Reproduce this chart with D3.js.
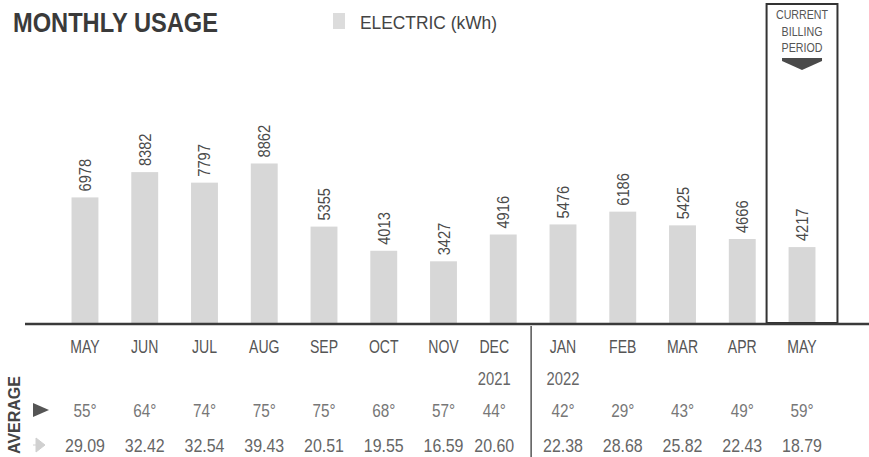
<!DOCTYPE html>
<html>
<head>
<meta charset="utf-8">
<script src="https://cdn.jsdelivr.net/npm/d3@7/dist/d3.min.js"></script>
<style>
html,body{margin:0;padding:0;background:#fff;}
svg{display:block;}
.nar{font-family:'Liberation Sans Narrow','Liberation Sans',Arial,sans-serif;}
</style>
</head>
<body>
<div id="chart"></div>
<script>
const months = ["MAY","JUN","JUL","AUG","SEP","OCT","NOV","DEC","JAN","FEB","MAR","APR","MAY"];
const years = ["","","","","","","","2021","2022","","","",""];
const kwh = [6978,8382,7797,8862,5355,4013,3427,4916,5476,6186,5425,4666,4217];
const temps = [55,64,74,75,75,68,57,44,42,29,43,49,59];
const dailyAvg = ["29.09","32.42","32.54","39.43","20.51","19.55","16.59","20.60","22.38","28.68","25.82","22.43","18.79"];
const titleText = "MONTHLY USAGE";
const legendText = "ELECTRIC (kWh)";
const currentLabel = ["CURRENT","BILLING","PERIOD"];

const W = 869, H = 457;
const svg = d3.select("#chart").append("svg").attr("width", W).attr("height", H);
const idx = d3.range(months.length);

const x = d3.scaleBand().domain(idx).range([55.1, 831.9]).paddingInner(0.55).paddingOuter(0.275);
const y = d3.scaleLinear().domain([0, 10000]).range([323, 143]);
const cx = i => x(i) + x.bandwidth() / 2;
const tx = i => cx(i) + (i === 7 ? -9 : 0);

function condense(sel, f) {
  sel.each(function () {
    const L = this.getComputedTextLength();
    d3.select(this).attr("textLength", L * f).attr("lengthAdjust", "spacingAndGlyphs");
  });
  return sel;
}

// Title
svg.append("text").attr("class","nar").attr("x",13).attr("y",32)
  .attr("font-size",28).attr("font-weight","bold").attr("fill","#3a3a3a")
  .attr("textLength",205).attr("lengthAdjust","spacingAndGlyphs").text(titleText);

// Legend
svg.append("rect").attr("x",333).attr("y",13).attr("width",12).attr("height",16).attr("fill","#dcdcdc");
svg.append("text").attr("class","nar").attr("x",360).attr("y",29)
  .attr("font-size",18).attr("fill","#444")
  .attr("textLength",137).attr("lengthAdjust","spacingAndGlyphs").text(legendText);

// Bars
svg.append("g").selectAll("rect").data(idx).join("rect")
  .attr("x", i => x(i)).attr("width", x.bandwidth())
  .attr("y", i => y(kwh[i])).attr("height", i => y(0) - y(kwh[i]))
  .attr("fill", "#d7d7d7");

// Bar value labels (rotated)
condense(svg.append("g").selectAll("text").data(idx).join("text")
  .attr("class","nar")
  .attr("transform", i => `translate(${cx(i)+6},${y(kwh[i]) - 6}) rotate(-90)`)
  .attr("font-size",17).attr("fill","#4a4a4a").text(i => kwh[i]), 0.86);

// Current billing period box
const last = months.length - 1;
const bx0 = x(last) - 22, bx1 = x(last) + x.bandwidth() + 22;
svg.append("rect").attr("x",bx0).attr("y",4).attr("width",bx1-bx0).attr("height",y(0)-4)
  .attr("fill","none").attr("stroke","#333").attr("stroke-width",2);
condense(svg.append("g").selectAll("text").data(currentLabel).join("text")
  .attr("class","nar").attr("x",cx(last)).attr("y",(d,k)=>19+k*16.5)
  .attr("text-anchor","middle").attr("font-size",13).attr("fill","#555").text(d=>d), 0.82);
svg.append("path")
  .attr("d",`M${cx(last)-20},58 L${cx(last)+20},58 L${cx(last)+20},61 L${cx(last)},70 L${cx(last)-20},61 Z`)
  .attr("fill","#4a4a4a");

// Baseline
svg.append("line").attr("x1",25).attr("x2",W).attr("y1",y(0)+1).attr("y2",y(0)+1)
  .attr("stroke","#3a3a3a").attr("stroke-width",2.5);

// Divider between years
const divX = (x(7) + x.bandwidth() + x(8)) / 2 - 2;
svg.append("line").attr("x1",divX).attr("x2",divX).attr("y1",y(0)+3).attr("y2",H)
  .attr("stroke","#555").attr("stroke-width",1.5);

// Month labels
condense(svg.append("g").selectAll("text").data(idx).join("text")
  .attr("class","nar").attr("x",tx).attr("y",353).attr("text-anchor","middle")
  .attr("font-size",18).attr("fill","#555").text(i => months[i]), 0.78);
// Years
condense(svg.append("g").selectAll("text").data(idx.filter(i=>years[i])).join("text")
  .attr("class","nar").attr("x",tx).attr("y",385).attr("text-anchor","middle")
  .attr("font-size",18).attr("fill","#666").text(i => years[i]), 0.82);
// Temperatures
condense(svg.append("g").selectAll("text").data(idx).join("text")
  .attr("class","nar").attr("x",tx).attr("y",417).attr("text-anchor","middle")
  .attr("font-size",18).attr("fill","#777").text(i => temps[i] + "°"), 0.85);
// Daily averages
condense(svg.append("g").selectAll("text").data(idx).join("text")
  .attr("class","nar").attr("x",tx).attr("y",452).attr("text-anchor","middle")
  .attr("font-size",19).attr("fill","#666").text(i => dailyAvg[i]), 0.84);

// AVERAGE label
svg.append("text").attr("class","nar").attr("transform","translate(20,454) rotate(-90)")
  .attr("font-size",17).attr("font-weight","bold").attr("fill","#444")
  .attr("textLength",78).attr("lengthAdjust","spacingAndGlyphs").text("AVERAGE");

// Icons
svg.append("path").attr("d","M33,403 L33,417 L49,410 Z").attr("fill","#555");
svg.append("path").attr("d","M36,438 L36,452 L45,445 Z M33,445 L36,445").attr("fill","#d0d0d0").attr("stroke","#d0d0d0").attr("stroke-width",1);
</script>
</body>
</html>
